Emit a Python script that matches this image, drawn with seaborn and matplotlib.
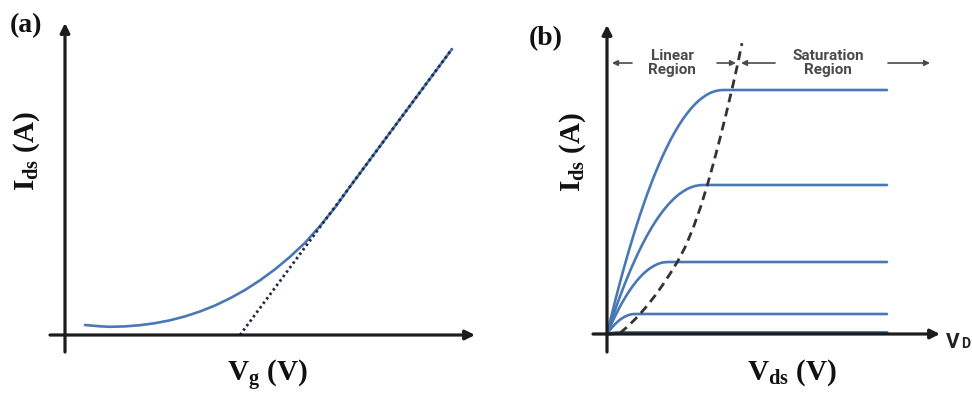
import matplotlib
matplotlib.use("Agg")
import matplotlib.pyplot as plt
import numpy as np
import pandas as pd
import seaborn as sns

# ---------------- data (arbitrary units read off the schematic) ----------------
# panel (a): transfer curve
vg_curve = [20, 35, 45, 60, 75, 90, 105, 120, 135, 150, 165, 180, 195, 210, 225,
            240, 255, 270, 285, 300, 315, 330, 345, 360, 375, 387]
ids_curve = [10, 8.7, 8.2, 8.6, 9.8, 11.8, 14.7, 18.6, 23.5, 29.5, 36.7, 45, 54.7,
             65.7, 78.2, 92.2, 109, 127.4, 148.4, 168.6, 188.9, 209.1, 229.3, 249.6,
             269.8, 286]
vg_fit = [175, 387]
ids_fit = [0, 286]

# panel (b): output curves (one list per gate voltage)
vds_c1 = [0, 4, 8, 12, 16, 20, 24, 28, 32, 36, 40, 44, 48, 52, 56, 60, 64, 68, 72,
          76, 80, 84, 88, 92, 96, 100, 104, 108, 112, 116, 280]
ids_c1 = [0, 16.5, 32.5, 47.9, 62.7, 76.9, 90.5, 103.6, 116.1, 127.9, 139.3, 150.0,
          160.2, 169.7, 178.7, 187.1, 195.0, 202.2, 208.9, 215.0, 220.5, 225.4, 229.8,
          233.6, 236.7, 239.4, 241.4, 242.8, 243.7, 244, 244]
vds_c2 = [0, 4, 8, 12, 16, 20, 24, 28, 32, 36, 40, 44, 48, 52, 56, 60, 64, 68, 72,
          76, 80, 84, 88, 92, 96, 280]
ids_c2 = [0, 12.2, 23.8, 34.9, 45.5, 55.6, 65.2, 74.2, 82.8, 90.8, 98.3, 105.3, 111.8,
          117.7, 123.1, 128.0, 132.4, 136.3, 139.7, 142.5, 144.9, 146.7, 148.0, 148.7,
          149, 149]
vds_c3 = [0, 3, 6, 9, 12, 15, 18, 21, 24, 27, 30, 33, 36, 39, 42, 45, 48, 51, 54, 57,
          61, 280]
ids_c3 = [0, 6.9, 13.5, 19.7, 25.5, 31.1, 36.2, 41.0, 45.5, 49.6, 53.4, 56.8, 59.9,
          62.6, 65.0, 67.0, 68.7, 70.1, 71.1, 71.7, 72, 72]
vds_c4 = [0, 2, 4, 6, 8, 10, 12, 14, 16, 18, 20, 22, 24, 26, 28, 280]
ids_c4 = [0, 2.8, 5.3, 7.7, 9.8, 11.7, 13.5, 15.0, 16.3, 17.4, 18.4, 19.1, 19.6,
          19.9, 20, 20]
vds_c5 = [0, 10, 280]
ids_c5 = [0, 1, 1]
# boundary between linear and saturation region
vds_sat = [13, 18, 23, 28, 33, 40, 48, 56, 64, 71, 78, 86, 94, 101, 107, 113, 119,
           125, 130, 135]
ids_sat = [1, 5.2, 9.8, 14.7, 20, 28.1, 38.3, 49.5, 61.7, 73.2, 86.6, 105.5, 128.2,
           151.2, 172.8, 195.6, 219.6, 244.8, 267, 290.8]

# ---------------- style ----------------
sns.set_theme(style="white")
plt.rcParams["font.family"] = ["Liberation Serif", "DejaVu Sans"]
plt.rcParams["mathtext.fontset"] = "custom"
plt.rcParams["mathtext.rm"] = "Liberation Serif:bold"
plt.rcParams["mathtext.it"] = "Liberation Serif:bold"
plt.rcParams["mathtext.bf"] = "Liberation Serif:bold"

W, H = 972, 397
fig = plt.figure(figsize=(W / 100, H / 100), dpi=100)
fig.patch.set_facecolor("white")

BLUE = "#4a78b4"
AXC = "#1c1c1c"


def add_axes_px(left, top, right, bottom):
    return fig.add_axes([left / W, 1 - bottom / H, (right - left) / W, (bottom - top) / H])


def arrow(ax, start, end, lw=2.3, color=AXC, ms=14):
    ax.annotate("", xy=end, xytext=start,
                arrowprops=dict(arrowstyle="-|>", lw=lw, color=color,
                                mutation_scale=ms, shrinkA=0, shrinkB=0),
                annotation_clip=False)


# ---------------- panel (a) ----------------
axa = add_axes_px(40, 15, 485, 360)
axa.set_xlim(-25, 420)
axa.set_ylim(-25, 320)
axa.axis("off")

df_a = pd.DataFrame({"Vg": vg_curve, "Ids": ids_curve})
df_fit = pd.DataFrame({"Vg": vg_fit, "Ids": ids_fit})
sns.lineplot(data=df_a, x="Vg", y="Ids", ax=axa, color=BLUE, lw=1.9,
             estimator=None, sort=False)
sns.lineplot(data=df_fit, x="Vg", y="Ids", ax=axa, color="#1f2a44", lw=2.0,
             linestyle=(0, (0.9, 1.1)), estimator=None, sort=False)

arrow(axa, (-15, 0), (410, 0))
arrow(axa, (0, -17), (0, 312))

# ---------------- panel (b) ----------------
axb = add_axes_px(585, 15, 945, 360)
axb.set_xlim(-22, 338)
axb.set_ylim(-26, 319)
axb.axis("off")

frames = []
for k, (vx, iy) in enumerate([(vds_c1, ids_c1), (vds_c2, ids_c2), (vds_c3, ids_c3),
                              (vds_c4, ids_c4)]):
    frames.append(pd.DataFrame({"Vds": vx, "Ids": iy, "curve": f"c{k + 1}"}))
df_b = pd.concat(frames, ignore_index=True)
sns.lineplot(data=df_b, x="Vds", y="Ids", hue="curve", ax=axb,
             palette=[BLUE] * 4, lw=1.9, estimator=None, legend=False)
sns.lineplot(data=pd.DataFrame({"Vds": vds_c5, "Ids": ids_c5}), x="Vds", y="Ids",
             ax=axb, color="#2d5a96", lw=2.6, estimator=None)
sns.lineplot(data=pd.DataFrame({"Vds": vds_sat, "Ids": ids_sat}), x="Vds", y="Ids",
             ax=axb, color="#333333", lw=2.0, linestyle=(0, (3.2, 2.0)),
             estimator=None, sort=False)

arrow(axb, (-14, 0), (333, 0))
arrow(axb, (0, -18), (0, 309))

# region annotations
GR = "#4a4a4a"
ya = 271
arrow(axb, (25, ya), (5, ya), lw=1.2, color=GR, ms=8)
arrow(axb, (110, ya), (129, ya), lw=1.2, color=GR, ms=8)
arrow(axb, (168, ya), (134, ya), lw=1.2, color=GR, ms=8)
arrow(axb, (281, ya), (323, ya), lw=1.2, color=GR, ms=8)
rfont = dict(family=["Roboto", "DejaVu Sans"], fontweight="bold", fontstyle="normal",
             fontsize=11, color=GR, ha="center", va="center", linespacing=1.0)
axb.text(65, ya, "Linear\nRegion", **rfont)
axb.text(221, ya, "Saturation\nRegion", **rfont)

# ---------------- labels ----------------
def ftext(x, y, s, **kw):
    fig.text(x / W, 1 - y / H, s, **kw)

lab = dict(fontweight="bold", color="#111111")
ftext(26, 26, "(a)", fontsize=20, ha="center", va="center", **lab)
ftext(546, 39, "(b)", fontsize=20, ha="center", va="center", **lab)
ftext(27, 151, r"$\mathrm{I_{ds}}$ (A)", fontsize=21, rotation=90,
      ha="center", va="center", **lab)
ftext(573, 152, r"$\mathrm{I_{ds}}$ (A)", fontsize=21, rotation=90,
      ha="center", va="center", **lab)
ftext(267, 382, r"$\mathrm{V_{g}}$ (V)", fontsize=21, ha="center", va="baseline", **lab)
ftext(792, 380, r"$\mathrm{V_{ds}}$ (V)", fontsize=21, ha="center", va="baseline", **lab)
ftext(946, 348, "V", fontsize=15, ha="left", va="baseline", fontweight="bold",
      family=["Roboto", "DejaVu Sans"], color="#222222")
ftext(961, 348, "D", fontsize=10, ha="left", va="baseline", fontweight="bold",
      family=["Roboto", "DejaVu Sans"], color="#222222")

fig.savefig("out.png", dpi=100, facecolor="white")
